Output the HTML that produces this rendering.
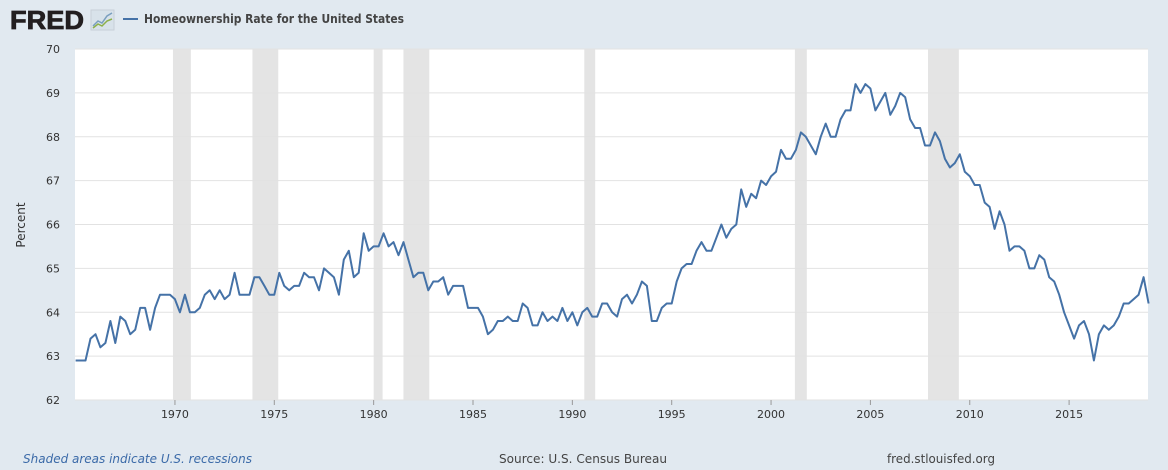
<!DOCTYPE html>
<html><head><meta charset="utf-8"><style>
body{margin:0;width:1168px;height:470px;background:#e1e9f0;font-family:"DejaVu Sans","Liberation Sans",sans-serif;overflow:hidden}
svg{position:absolute;left:0;top:0}
</style></head><body>
<svg id="s" width="1168" height="470" xmlns="http://www.w3.org/2000/svg">
<rect x="0" y="0" width="1168" height="470" fill="#e1e9f0"/>
<text x="10" y="29" font-family="Liberation Sans,sans-serif" font-weight="bold" font-size="26" fill="#231f20" textLength="74" lengthAdjust="spacingAndGlyphs" stroke="#231f20" stroke-width="0.8">FRED</text>
<rect x="91" y="10" width="23" height="20" fill="#d8e2ea" stroke="#c8d0d8"/>
<polyline points="93,26 98,21 102,23 107,16 112,13" fill="none" stroke="#7a9fbf" stroke-width="1.5"/>
<polyline points="93,28 98,24 102,26 107,21 112,19" fill="none" stroke="#8db04a" stroke-width="1.5"/>
<line x1="123" y1="19" x2="138" y2="19" stroke="#4572a7" stroke-width="2"/>
<text x="144" y="23" font-size="12" font-weight="bold" fill="#444" textLength="260" lengthAdjust="spacingAndGlyphs">Homeownership Rate for the United States</text>
<rect x="75" y="49" width="1073" height="351" fill="#fff"/>
<g id="rec" fill="#e4e4e4"></g>
<g id="grid" stroke="#e2e2e2" stroke-width="1"></g>
<g id="lab" font-size="11" fill="#333"></g>
<text transform="translate(25,225) rotate(-90)" text-anchor="middle" font-size="12" fill="#333">Percent</text>
<polyline id="ln" fill="none" stroke="#4572a7" stroke-width="2" stroke-linejoin="round"/>
<text x="23" y="463" font-size="12.5" font-style="italic" fill="#3b6aa8" textLength="229" lengthAdjust="spacingAndGlyphs">Shaded areas indicate U.S. recessions</text>
<text x="499" y="463" font-size="12.5" fill="#444" textLength="168" lengthAdjust="spacingAndGlyphs">Source: U.S. Census Bureau</text>
<text x="887" y="463" font-size="12.5" fill="#444" textLength="108" lengthAdjust="spacingAndGlyphs">fred.stlouisfed.org</text>
</svg>
<script>
var d=[62.9,62.9,62.9,63.4,63.5,63.2,63.3,63.8,63.3,63.9,63.8,63.5,63.6,64.1,64.1,63.6,64.1,64.4,64.4,64.4,64.3,64.0,64.4,64.0,64.0,64.1,64.4,64.5,64.3,64.5,64.3,64.4,64.9,64.4,64.4,64.4,64.8,64.8,64.6,64.4,64.4,64.9,64.6,64.5,64.6,64.6,64.9,64.8,64.8,64.5,65.0,64.9,64.8,64.4,65.2,65.4,64.8,64.9,65.8,65.4,65.5,65.5,65.8,65.5,65.6,65.3,65.6,65.2,64.8,64.9,64.9,64.5,64.7,64.7,64.8,64.4,64.6,64.6,64.6,64.1,64.1,64.1,63.9,63.5,63.6,63.8,63.8,63.9,63.8,63.8,64.2,64.1,63.7,63.7,64.0,63.8,63.9,63.8,64.1,63.8,64.0,63.7,64.0,64.1,63.9,63.9,64.2,64.2,64.0,63.9,64.3,64.4,64.2,64.4,64.7,64.6,63.8,63.8,64.1,64.2,64.2,64.7,65.0,65.1,65.1,65.4,65.6,65.4,65.4,65.7,66.0,65.7,65.9,66.0,66.8,66.4,66.7,66.6,67.0,66.9,67.1,67.2,67.7,67.5,67.5,67.7,68.1,68.0,67.8,67.6,68.0,68.3,68.0,68.0,68.4,68.6,68.6,69.2,69.0,69.2,69.1,68.6,68.8,69.0,68.5,68.7,69.0,68.9,68.4,68.2,68.2,67.8,67.8,68.1,67.9,67.5,67.3,67.4,67.6,67.2,67.1,66.9,66.9,66.5,66.4,65.9,66.3,66.0,65.4,65.5,65.5,65.4,65.0,65.0,65.3,65.2,64.8,64.7,64.4,64.0,63.7,63.4,63.7,63.8,63.5,62.9,63.5,63.7,63.6,63.7,63.9,64.2,64.2,64.3,64.4,64.8,64.2];
var X=function(y){return 75.6+(y-1965)*19.87},Y=function(v){return 400-(v-62)*43.875};
var ns="http://www.w3.org/2000/svg";
function el(p,t,a,txt){var e=document.createElementNS(ns,t);for(var k in a)e.setAttribute(k,a[k]);if(txt)e.textContent=txt;document.getElementById(p).appendChild(e);}
[[1969.9,1970.8],[1973.9,1975.2],[1980.0,1980.45],[1981.5,1982.8],[1990.6,1991.15],[2001.2,2001.8],[2007.9,2009.45]].forEach(function(r){el("rec","rect",{x:X(r[0]),y:49,width:X(r[1])-X(r[0]),height:351});});
for(var v=62;v<=70;v++){var y=Y(v);el("grid","line",{x1:75,x2:1148,y1:y,y2:y});el("lab","text",{x:60,y:y+4,"text-anchor":"end"},v);}
for(var yr=1970;yr<=2015;yr+=5){var x=X(yr);el("grid","line",{x1:x,x2:x,y1:400,y2:405,stroke:"#999"});el("lab","text",{x:x,y:418,"text-anchor":"middle"},yr);}
var p=d.map(function(v,i){return (75.6+i*19.87/4).toFixed(1)+","+Y(v).toFixed(1)}).join(" ");
document.getElementById("ln").setAttribute("points",p);
</script>
</body></html>
